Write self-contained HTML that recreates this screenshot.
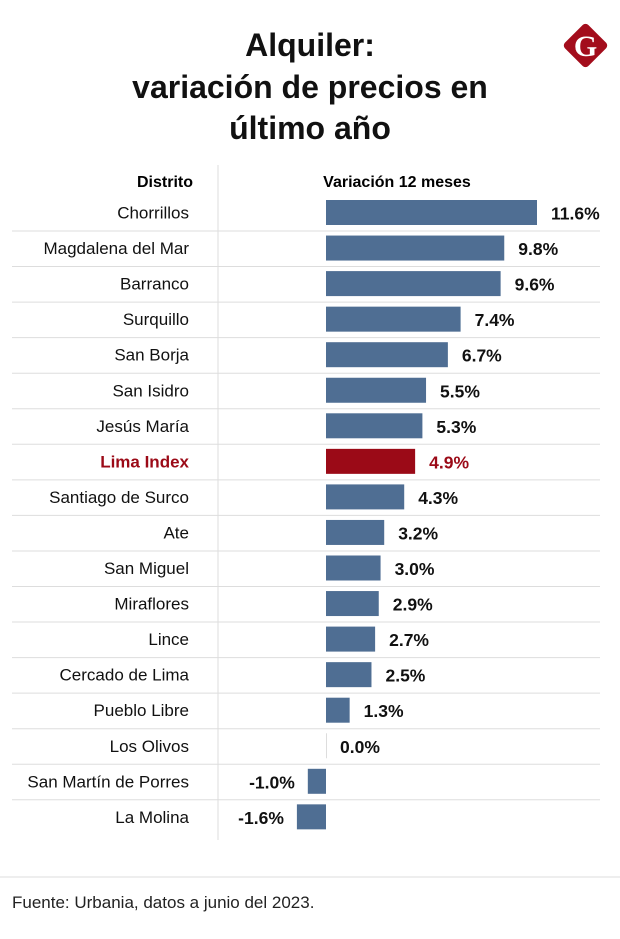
<!DOCTYPE html>
<html><head><meta charset="utf-8"><style>
body{margin:0;background:#fff;width:620px;height:934px;overflow:hidden;font-family:"Liberation Sans",sans-serif}
</style></head><body>
<svg width="620" height="934" viewBox="0 0 620 934">
<g font-weight="bold" font-size="32" text-anchor="middle" fill="#111">
<text x="310" y="56">Alquiler:</text>
<text x="310" y="98">variación de precios en</text>
<text x="310" y="139">último año</text>
</g>
<g>
<rect x="569" y="29" width="33" height="33" rx="4" fill="#a30d1c" transform="rotate(45 585.5 45.5)"/>
<text x="585.5" y="56" text-anchor="middle" font-size="30" font-weight="bold" font-family="Liberation Serif,serif" fill="#fff">G</text>
</g>
<line x1="218" y1="165" x2="218" y2="840" stroke="#ddd"/>
<text x="193" y="187" text-anchor="end" font-size="16" font-weight="bold">Distrito</text>
<text x="397" y="187" text-anchor="middle" font-size="16" font-weight="bold">Variación 12 meses</text>
<g id="rows"></g>
<line x1="0" y1="877" x2="620" y2="877" stroke="#ddd"/>
<text x="12" y="908" font-size="17" fill="#222">Fuente: Urbania, datos a junio del 2023.</text>
</svg>
<script>
const districts=["Chorrillos","Magdalena del Mar","Barranco","Surquillo","San Borja","San Isidro","Jesús María","Lima Index","Santiago de Surco","Ate","San Miguel","Miraflores","Lince","Cercado de Lima","Pueblo Libre","Los Olivos","San Martín de Porres","La Molina"];
const values=[11.6,9.8,9.6,7.4,6.7,5.5,5.3,4.9,4.3,3.2,3.0,2.9,2.7,2.5,1.3,0.0,-1.0,-1.6];
const labels=["11.6%","9.8%","9.6%","7.4%","6.7%","5.5%","5.3%","4.9%","4.3%","3.2%","3.0%","2.9%","2.7%","2.5%","1.3%","0.0%","-1.0%","-1.6%"];
const highlight="Lima Index";
const x0=326, k=211/11.6;
const xs=v=>x0+v*k;
const yc=i=>212.5+i*35.55;
const ns="http://www.w3.org/2000/svg";
const g=document.getElementById('rows');
function mk(t,a){const e=document.createElementNS(ns,t);for(const n in a)e.setAttribute(n,a[n]);g.appendChild(e);return e;}
districts.forEach((d,i)=>{
  const hl=d===highlight, col=hl?"#9b0a17":"#4f6e93";
  if(i<districts.length-1){
    const l=mk('line',{x1:12,x2:600,y1:yc(i)+18.5,y2:yc(i)+18.5,stroke:"#ddd"});
    
    
  }
  const t=mk('text',{x:189,y:yc(i)+6,'text-anchor':'end','font-size':17,fill:hl?"#9b0a17":"#111",'font-weight':hl?'bold':'normal'});
  t.textContent=d;
  
  
  const v=values[i], a=xs(Math.min(0,v)), b=xs(Math.max(0,v));
  const r=mk('rect',{x:a,y:yc(i)-12.5,width:Math.max(b-a,v===0?1:0),height:25,fill:v===0?"#ddd":col});
  
  
  const vt=mk('text',{x:v<0?a-13:b+14,y:yc(i)+7,'text-anchor':v<0?'end':'start','font-size':17.5,'font-weight':'bold',fill:hl?"#9b0a17":"#111"});
  vt.textContent=labels[i];
  
  
});
</script>
</body></html>
